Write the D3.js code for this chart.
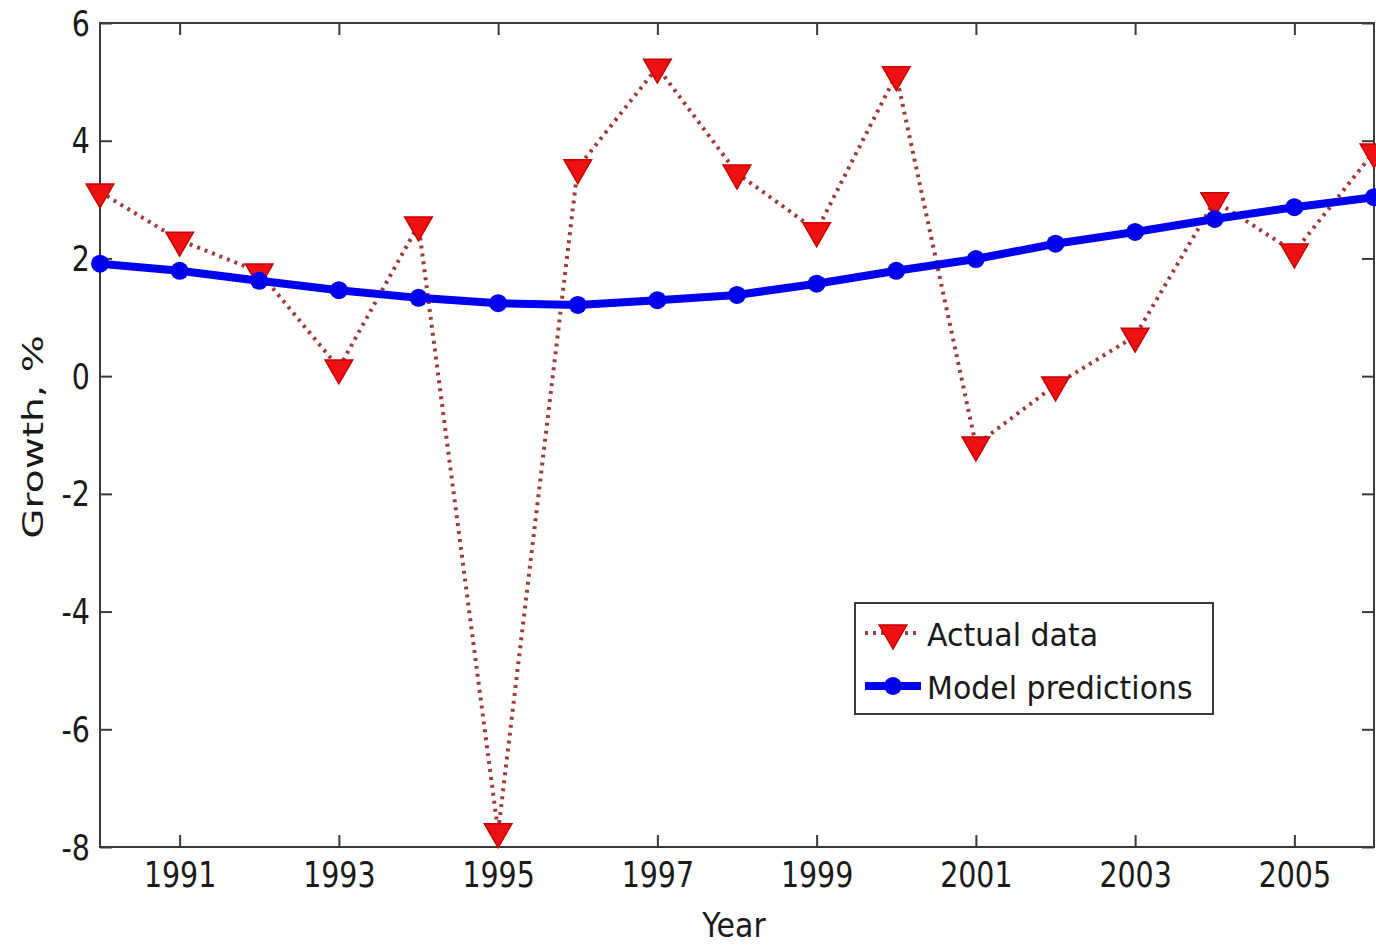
<!DOCTYPE html>
<html>
<head>
<meta charset="utf-8">
<script src="https://cdn.jsdelivr.net/npm/d3@7"></script>
<style>
  html, body { margin: 0; padding: 0; background: #fff; }
  svg { display: block; }
  text { font-family: "DejaVu Sans", Verdana, sans-serif; fill: #1a1a1a; }
</style>
</head>
<body>
<svg id="chart" width="1376" height="947"></svg>
<script>
// Annual growth, %: observed values and fitted model, 1990-2006
const years = [1990, 1991, 1992, 1993, 1994, 1995, 1996, 1997, 1998,
               1999, 2000, 2001, 2002, 2003, 2004, 2005, 2006];
const actualData = [3.13, 2.31, 1.77, 0.14, 2.57, -7.74, 3.54, 5.25, 3.45,
                    2.47, 5.12, -1.17, -0.15, 0.68, 2.98, 2.11, 3.81];
const modelPredictions = [1.91, 1.79, 1.62, 1.46, 1.33, 1.24, 1.21, 1.29, 1.38,
                          1.57, 1.79, 1.99, 2.25, 2.45, 2.67, 2.87, 3.04];
const xTicks = [1991, 1993, 1995, 1997, 1999, 2001, 2003, 2005];
const yTicks = [-8, -6, -4, -2, 0, 2, 4, 6];
const seriesNames = ["Actual data", "Model predictions"];

const svg = d3.select("#chart");
const plotL = 100, plotR = 1374, plotT = 23, plotB = 847;

const x = d3.scaleLinear().domain([1990, 2006]).range([plotL, plotR]);
const y = d3.scaleLinear().domain([-8, 6]).range([plotB, plotT]);

const axisColor = "#3a3a3a";
const tickLen = 12;

// Plot frame
svg.append("rect")
  .attr("x", plotL).attr("y", plotT)
  .attr("width", plotR - plotL).attr("height", plotB - plotT)
  .attr("fill", "none").attr("stroke", axisColor).attr("stroke-width", 2);

function styleAxis(g) {
  g.select(".domain").remove();
  g.selectAll(".tick line").attr("stroke", axisColor).attr("stroke-width", 2);
}

// Bottom axis with labels, ticks pointing inward
const gx = svg.append("g").attr("transform", `translate(0,${plotB})`)
  .call(d3.axisBottom(x).tickValues(xTicks).tickSizeInner(-tickLen).tickSizeOuter(0)
        .tickFormat(d => String(d)));
styleAxis(gx);
gx.selectAll(".tick text")
  .attr("y", 0).attr("dy", null)
  .attr("transform", "translate(0,15) scale(1,1.22)")
  .attr("dominant-baseline", "hanging")
  .style("font-size", "28.5px").style("font-family", "\"DejaVu Sans\", sans-serif");

// Top axis: ticks only
const gxt = svg.append("g").attr("transform", `translate(0,${plotT})`)
  .call(d3.axisTop(x).tickValues(xTicks).tickSizeInner(-tickLen).tickSizeOuter(0).tickFormat(""));
styleAxis(gxt);

// Left axis with labels
const gy = svg.append("g").attr("transform", `translate(${plotL},0)`)
  .call(d3.axisLeft(y).tickValues(yTicks).tickSizeInner(-tickLen).tickSizeOuter(0)
        .tickFormat(d => String(d)));
styleAxis(gy);
gy.selectAll(".tick text")
  .attr("x", 0).attr("dy", null)
  .attr("transform", "translate(-10,0) scale(1,1.22)")
  .attr("dominant-baseline", "central")
  .style("font-size", "28.5px").style("font-family", "\"DejaVu Sans\", sans-serif");

// Right axis: ticks only
const gyr = svg.append("g").attr("transform", `translate(${plotR},0)`)
  .call(d3.axisRight(y).tickValues(yTicks).tickSizeInner(-tickLen).tickSizeOuter(0).tickFormat(""));
styleAxis(gyr);

// Axis titles
svg.append("text")
  .attr("transform", `translate(${(plotL + plotR) / 2 - 3},937) scale(1,1.1)`)
  .attr("text-anchor", "middle")
  .style("font-size", "30px")
  .text("Year");

svg.append("text")
  .attr("transform", `translate(43,437) rotate(-90) scale(1.35,1)`)
  .attr("text-anchor", "middle")
  .style("font-size", "29px")
  .text("Growth, %");

// Series styles
const redLine = "#a03c3c", redFill = "#ee1111", redEdge = "#c80000";
const blue = "#0000ee";
const tri = d3.symbol().type(d3.symbolTriangle).size(330);

const actual = years.map((yr, i) => ({ yr, v: actualData[i] }));
const model = years.map((yr, i) => ({ yr, v: modelPredictions[i] }));

const line = d3.line().x(d => x(d.yr)).y(d => y(d.v));

// Actual data: dotted line with downward triangles
svg.append("path").datum(actual)
  .attr("d", line)
  .attr("fill", "none").attr("stroke", redLine)
  .attr("stroke-width", 4).attr("stroke-dasharray", "3,5");

svg.append("g").selectAll("path").data(actual).join("path")
  .attr("d", tri)
  .attr("transform", d => `translate(${x(d.yr)},${y(d.v)}) rotate(180)`)
  .attr("fill", redFill).attr("stroke", redEdge).attr("stroke-width", 1.5);

// Model predictions: thick solid line with dots
svg.append("path").datum(model)
  .attr("d", line)
  .attr("fill", "none").attr("stroke", blue)
  .attr("stroke-width", 8).attr("stroke-linejoin", "round");

svg.append("g").selectAll("circle").data(model).join("circle")
  .attr("cx", d => x(d.yr)).attr("cy", d => y(d.v))
  .attr("r", 9).attr("fill", blue);

// Legend
const lg = svg.append("g");
lg.append("rect")
  .attr("x", 855).attr("y", 603).attr("width", 358).attr("height", 111)
  .attr("fill", "#fff").attr("stroke", axisColor).attr("stroke-width", 2);

lg.append("line")
  .attr("x1", 865).attr("x2", 921).attr("y1", 633).attr("y2", 633)
  .attr("stroke", redLine).attr("stroke-width", 4).attr("stroke-dasharray", "3,5");
lg.append("path")
  .attr("d", tri)
  .attr("transform", "translate(893,633) rotate(180)")
  .attr("fill", redFill).attr("stroke", redEdge).attr("stroke-width", 1.5);

lg.append("line")
  .attr("x1", 865).attr("x2", 921).attr("y1", 686).attr("y2", 686)
  .attr("stroke", blue).attr("stroke-width", 8);
lg.append("circle").attr("cx", 893).attr("cy", 686).attr("r", 9).attr("fill", blue);

lg.selectAll("text.lbl").data(seriesNames).join("text")
  .attr("class", "lbl")
  .attr("transform", (d, i) => `translate(927,${646 + i * 53}) scale(1,1.06)`)
  .style("font-size", "30px")
  .text(d => d);
</script>
</body>
</html>
